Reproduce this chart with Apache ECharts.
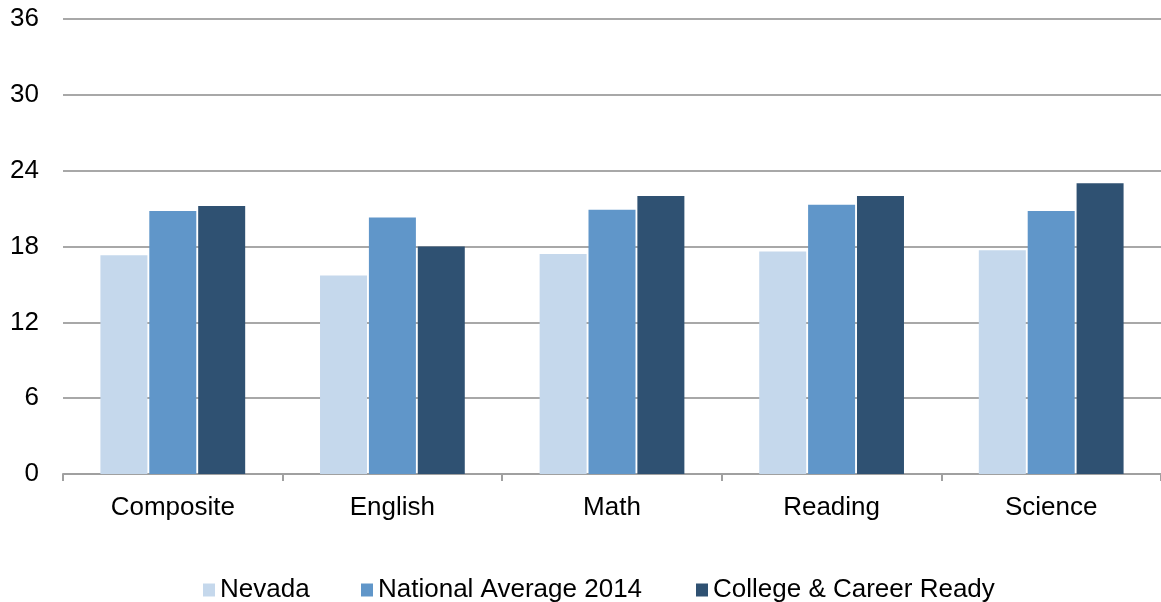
<!DOCTYPE html>
<html>
<head>
<meta charset="utf-8">
<script src="https://cdn.jsdelivr.net/npm/echarts@6/dist/echarts.min.js"></script>
<style>
html,body{margin:0;padding:0;background:#fff;}
#chart{width:1161px;height:602px;}
</style>
</head>
<body>
<div id="chart"></div>
<script>
const categories = ['Composite', 'English', 'Math', 'Reading', 'Science'];
const nevada = [17.3, 15.7, 17.4, 17.6, 17.7];
const nationalAverage2014 = [20.8, 20.3, 20.9, 21.3, 20.8];
const collegeCareerReady = [21.2, 18, 22, 22, 23];
const yTicks = [0, 6, 12, 18, 24, 30, 36];
const seriesNames = ['Nevada', 'National Average 2014', 'College & Career Ready'];
const colors = ['#C5D8EC', '#6096C9', '#2F5172'];

const chart = echarts.init(document.getElementById('chart'));
const FONT = "'Liberation Sans', Arial, sans-serif";
const legendText = {fontFamily: FONT, fontSize: 26, color: '#000'};
const legendPos = [203, 361, 696];
const option = {
  animation: false,
  backgroundColor: '#fff',
  grid: {left: 63, top: 19, width: 1102, height: 455},
  legend: seriesNames.map((n, i) => ({
    data: [n], left: legendPos[i], top: 577, itemWidth: 12, itemHeight: 13,
    icon: 'rect', textStyle: legendText, itemGap: 0, padding: 0
  })),
  xAxis: {
    type: 'category', data: categories,
    axisLine: {lineStyle: {color: '#A0A0A0', width: 2}},
    axisTick: {show: true, length: 7, lineStyle: {color: '#A0A0A0', width: 2}},
    axisLabel: {color: '#000', fontSize: 26, fontFamily: FONT, margin: 21}
  },
  yAxis: {
    type: 'value', min: yTicks[0], max: yTicks[yTicks.length - 1], interval: 6,
    axisLine: {show: false}, axisTick: {show: false},
    splitLine: {lineStyle: {color: '#A8A8A8', width: 2}},
    axisLabel: {color: '#000', fontSize: 26, fontFamily: FONT, margin: 24, padding: [6, 0, 0, 0]}
  },
  series: [nevada, nationalAverage2014, collegeCareerReady].map((d, i) => ({
    name: seriesNames[i], type: 'bar', data: d, barWidth: 47, barGap: '4%',
    itemStyle: {color: colors[i]}
  }))
};
chart.setOption(option);
</script>
</body>
</html>
